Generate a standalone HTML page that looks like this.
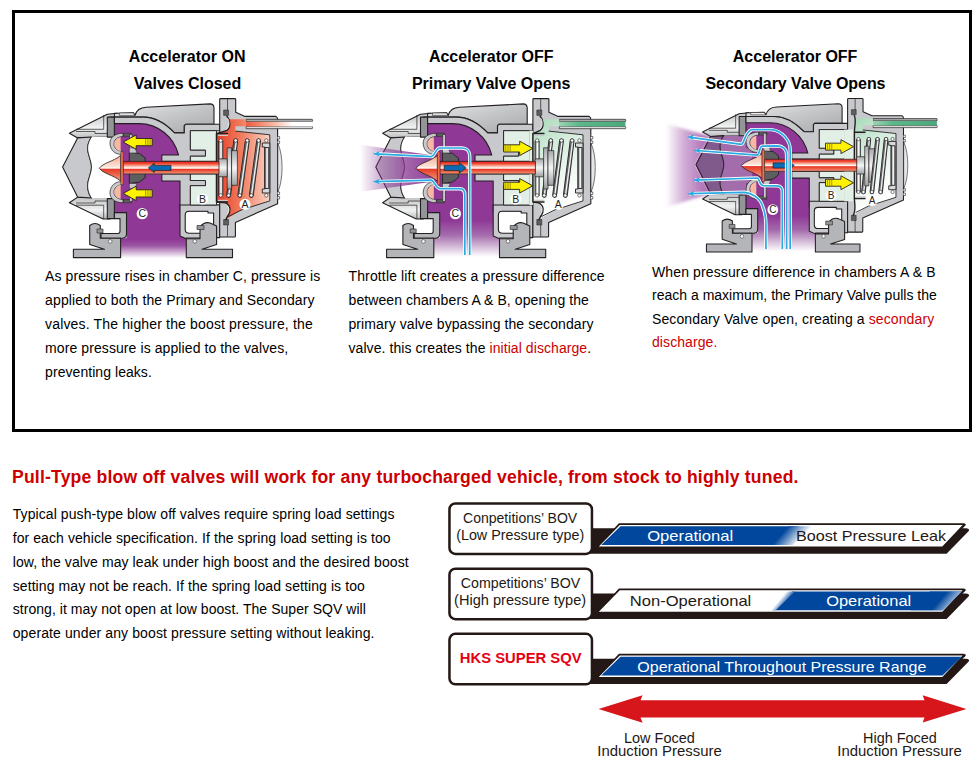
<!DOCTYPE html>
<html><head><meta charset="utf-8"><title>SQV</title>
<style>html,body{margin:0;padding:0;background:#fff;width:979px;height:772px;overflow:hidden}
svg{display:block;font-family:"Liberation Sans",sans-serif}</style></head>
<body><svg width="979" height="772" viewBox="0 0 979 772">
<defs><linearGradient id="fade1" gradientUnits="userSpaceOnUse" x1="786" y1="529" x2="800" y2="541"><stop offset="0" stop-color="#00479d"/><stop offset="1" stop-color="#fff"/></linearGradient>
<linearGradient id="fade2" gradientUnits="userSpaceOnUse" x1="781" y1="598" x2="787" y2="603"><stop offset="0" stop-color="#fff"/><stop offset="1" stop-color="#00479d"/></linearGradient>
<linearGradient id="fade2r" gradientUnits="userSpaceOnUse" x1="945" y1="594" x2="958" y2="605"><stop offset="0" stop-color="#00479d"/><stop offset="1" stop-color="#e8ecf6"/></linearGradient><linearGradient id="purfade1" gradientUnits="userSpaceOnUse" x1="0" y1="239" x2="0" y2="258"><stop offset="0" stop-color="#8f3896"/><stop offset="0.35" stop-color="#9a55a2"/><stop offset="1" stop-color="#fff"/></linearGradient>
<linearGradient id="purfade2" gradientUnits="userSpaceOnUse" x1="0" y1="220" x2="0" y2="257"><stop offset="0" stop-color="#8f3896"/><stop offset="0.4" stop-color="#a46aac"/><stop offset="0.75" stop-color="#d9c3dc"/><stop offset="1" stop-color="#fff"/></linearGradient>
<linearGradient id="capg" x1="0" y1="0" x2="1" y2="1"><stop offset="0" stop-color="#e6e7e8"/><stop offset="0.5" stop-color="#c4c6c8"/><stop offset="1" stop-color="#a7a9ac"/></linearGradient>
<linearGradient id="shellg" x1="0" y1="0" x2="0" y2="1"><stop offset="0" stop-color="#bfc1c3"/><stop offset="0.6" stop-color="#f1f2f2"/><stop offset="1" stop-color="#bcbec0"/></linearGradient>
<linearGradient id="rodg" x1="0" y1="0" x2="0" y2="1"><stop offset="0" stop-color="#e41e20"/><stop offset="0.18" stop-color="#ef4a32"/><stop offset="0.45" stop-color="#fbd9cc"/><stop offset="0.55" stop-color="#ffffff"/><stop offset="0.62" stop-color="#e8321f"/><stop offset="1" stop-color="#f39a7a"/></linearGradient>
<linearGradient id="bulg" x1="0" y1="0" x2="0" y2="1"><stop offset="0" stop-color="#f3a98a"/><stop offset="0.45" stop-color="#fde6dc"/><stop offset="0.5" stop-color="#ffffff"/><stop offset="0.53" stop-color="#e73a26"/><stop offset="1" stop-color="#f39c7e"/></linearGradient>
<linearGradient id="redA" x1="0" y1="0" x2="1" y2="0"><stop offset="0" stop-color="#e8402b"/><stop offset="0.45" stop-color="#f07a5c"/><stop offset="1" stop-color="#f9d3c4"/></linearGradient>
<linearGradient id="greenA" x1="0" y1="0" x2="0.35" y2="1"><stop offset="0" stop-color="#a6d9b8"/><stop offset="0.35" stop-color="#d3ecdb"/><stop offset="0.8" stop-color="#f7fbf8"/><stop offset="1" stop-color="#ffffff"/></linearGradient>
<linearGradient id="tubeR" x1="0" y1="0" x2="1" y2="0"><stop offset="0" stop-color="#ef5a3c"/><stop offset="0.4" stop-color="#f7b39c"/><stop offset="0.7" stop-color="#ffffff"/></linearGradient>
<linearGradient id="tubeG" x1="0" y1="0" x2="1" y2="0"><stop offset="0" stop-color="#9dd3b1"/><stop offset="0.3" stop-color="#5cb88b"/><stop offset="1" stop-color="#4aa97a"/></linearGradient>
<linearGradient id="coilh" gradientUnits="userSpaceOnUse" x1="0" y1="141" x2="0" y2="195"><stop offset="0" stop-color="#9a9c9e"/><stop offset="0.5" stop-color="#ffffff"/><stop offset="1" stop-color="#bcbec0"/></linearGradient>
<linearGradient id="coilg" x1="0" y1="0" x2="1" y2="0"><stop offset="0" stop-color="#58595b"/><stop offset="0.55" stop-color="#ffffff"/><stop offset="1" stop-color="#9d9fa2"/></linearGradient>
<linearGradient id="discg" x1="0" y1="0" x2="0" y2="1"><stop offset="0" stop-color="#a7a9ac"/><stop offset="0.5" stop-color="#f6f6f6"/><stop offset="1" stop-color="#9d9fa2"/></linearGradient>
<radialGradient id="flare2" cx="1" cy="0.5" r="1" fx="1" fy="0.5"><stop offset="0" stop-color="#8f3896" stop-opacity="0.95"/><stop offset="1" stop-color="#8f3896" stop-opacity="0.05"/></radialGradient>
<linearGradient id="flareL2" gradientUnits="userSpaceOnUse" x1="360" y1="0" x2="433" y2="0"><stop offset="0" stop-color="#8a3893" stop-opacity="0.0"/><stop offset="0.3" stop-color="#8a3893" stop-opacity="0.42"/><stop offset="0.65" stop-color="#8a3893" stop-opacity="0.78"/><stop offset="1" stop-color="#8a3893" stop-opacity="0.95"/></linearGradient>
<linearGradient id="flareL3" gradientUnits="userSpaceOnUse" x1="666" y1="0" x2="706" y2="0"><stop offset="0" stop-color="#9a4aa3" stop-opacity="0.0"/><stop offset="0.45" stop-color="#9a4aa3" stop-opacity="0.45"/><stop offset="1" stop-color="#9a4aa3" stop-opacity="0.8"/></linearGradient>
<filter id="soft2" x="-10%" y="-20%" width="120%" height="140%"><feGaussianBlur stdDeviation="0.7"/></filter>
<filter id="soft" x="-10%" y="-10%" width="120%" height="120%"><feGaussianBlur stdDeviation="1.6"/></filter>
<linearGradient id="flareL" x1="0" y1="0" x2="1" y2="0"><stop offset="0" stop-color="#b58abd" stop-opacity="0.1"/><stop offset="0.5" stop-color="#a673b0" stop-opacity="0.7"/><stop offset="1" stop-color="#8f3896" stop-opacity="0.9"/></linearGradient></defs>
<g transform="translate(0,0)"><path d="M114.4,123.6 L139.3,123.6 C158,124 176,136 180,156 L180,236 L186.3,238.8 L186.3,258 L120.6,258 L120.6,238.2 L126.5,238.2 L126.5,212.6 L114.4,212.6 Z" fill="url(#purfade1)" />
<path d="M69.4,133.2 L107.3,114.3 L117.3,113.2 L117.3,117.1 L110,117.1 L110,137.1 L77.6,137.9 Z" fill="url(#shellg)" stroke="#231f20" stroke-width="1.1" stroke-linejoin="round" />
<path d="M76,129.3 L103.7,129.3 L103.7,114.9 M76,131.5 L95,131.5 L95,133.5 L107.3,133.5" fill="none" stroke="#231f20" stroke-width="0.7" stroke-linejoin="round" />
<path d="M69.4,202.7 L103.1,219 L110,219 L110,197.1 L77.6,197.1 Z" fill="url(#shellg)" stroke="#231f20" stroke-width="1.1" stroke-linejoin="round" />
<path d="M76,205.2 L103.7,205.2 L103.7,219 M76,203 L95,203 L95,201 L107.3,201" fill="none" stroke="#231f20" stroke-width="0.7" stroke-linejoin="round" />
<path d="M77.6,137.9 L91.5,137 C88,142 87,147 88,152 C89,157 91.5,162 91.5,167 C91.5,172 89,177 88,182 C87,187 88,193 91.5,198 L77.6,197.1 L62.6,167 Z" fill="#c8c9cc" stroke="#231f20" stroke-width="1.1" stroke-linejoin="round" />
<path d="M91.5,137 L114.4,137 L114.4,150 L120.8,150 L120.8,186 L114.4,186 L114.4,198 L91.5,198 C88,193 87,187 88,182 C89,177 91.5,172 91.5,167 C91.5,162 89,157 88,152 C87,147 88,142 91.5,137 Z" fill="#fff" />
<path d="M91.5,137 C88,142 87,147 88,152 C89,157 91.5,162 91.5,167 C91.5,172 89,177 88,182 C87,187 88,193 91.5,198" fill="none" stroke="#231f20" stroke-width="0.8" stroke-linejoin="round" />
<path d="M107.3,117.1 L114.4,117.1 L114.4,137.1 L107.3,137.1 Z" fill="#939598" stroke="#231f20" stroke-width="1.1" stroke-linejoin="round" />
<path d="M107.3,198.6 L114.4,198.6 L114.4,218.6 L107.3,218.6 Z" fill="#939598" stroke="#231f20" stroke-width="1.1" stroke-linejoin="round" />
<path d="M117.3,113.2 L133.6,112.9 L135,115.4 C136.5,110 140,107.6 146,107.3 L210,103.9 Q214,104 214,108 L214,124.3 L185.7,124.3 L184.3,125.7 L184.3,132.9 L174.5,132.9 C166,124 156,117.1 143.6,117.1 L114.4,117.1 L114.4,113.4 Z" fill="url(#capg)" stroke="#231f20" stroke-width="1.1" stroke-linejoin="round" />
<path d="M119.3,115.4 L119.3,113 L133.6,112.9 L134.5,115.4 Z" fill="#eeeeee" stroke="#231f20" stroke-width="0.6" stroke-linejoin="round" />
<path d="M114.4,117.1 L143.6,117.1 C156,117.1 166,124 174.5,132.9 L184.3,132.9 L184.3,125.7 L185.7,124.3 L219.7,124.3 L219.7,130.7 L190.4,130.7 L190.4,150 L205.5,150 L205.5,156.2 L190.4,156.2 L190.4,161.3 L161.8,161.3 L161.8,155 L178.5,155 C174,137 158,123.6 139.3,123.6 L114.4,123.6 Z" fill="#c8c9cc" stroke="#231f20" stroke-width="1.1" stroke-linejoin="round" />
<path d="M161.8,174 L190.4,174 L190.4,180.5 L205.5,180.5 L205.5,185.7 L190.4,185.7 L190.4,205 L219.7,205 L219.7,211 L180,211 L180,181 L161.8,181 Z" fill="#c8c9cc" stroke="#231f20" stroke-width="1.1" stroke-linejoin="round" />
<path d="M180,205 L219.7,205 L219.7,237.6 L213.6,237.6 L213.6,213 L208,213 L208,211.3 L189,211.3 Q185.2,211.3 185.2,215 L185.2,229.5 Q185.2,233.3 189.5,233.3 L204,233.3 L204,238 L186.3,238 L186.3,238.8 L180,236 Z" fill="#c8c9cc" stroke="#231f20" stroke-width="1.1" stroke-linejoin="round" />
<path d="M114.4,212.6 L126.5,212.6 L126.5,234 Q126.5,238.2 122,238.2 L101,238.2 L101,233.5 L118,233.5 Q120,233.5 120,231 L120,218.6 L114.4,218.6 Z" fill="#b3b5b8" stroke="#231f20" stroke-width="1.1" stroke-linejoin="round" />
<path d="M73.4,249.3 L104.5,249.3 L89.7,244.4 L89.7,225.5 Q95,221.5 100.3,225.5 L100.3,238.2 L120.6,238.2 L120.6,257.6 L73.4,257.6 Z" fill="#b3b5b8" stroke="#231f20" stroke-width="1.1" stroke-linejoin="round" />
<path d="M97,229 L103,229 L103,233 L97,233 Z" fill="#939598" stroke="#231f20" stroke-width="0.6" stroke-linejoin="round" />
<circle cx="110.2" cy="241.4" r="1.8" fill="#fff" stroke="#231f20" stroke-width="0.5"/>
<path d="M186.3,238.8 L200,238.8 L200,227 Q204,221.5 210,223 L216.6,226 L216.6,244.6 L202,249.3 L232.5,249.3 L232.5,257.6 L186.3,257.6 Z" fill="#b3b5b8" stroke="#231f20" stroke-width="1.1" stroke-linejoin="round" />
<path d="M197,225.5 L204,225.5 L204,229.5 L197,229.5 Z" fill="#939598" stroke="#231f20" stroke-width="0.6" stroke-linejoin="round" />
<circle cx="194.8" cy="241.3" r="1.8" fill="#fff" stroke="#231f20" stroke-width="0.5"/>
<path d="M190.4,130.7 L216.5,130.7 L216.5,205 L190.4,205 L190.4,185.7 L205.5,185.7 L205.5,180.5 L190.4,180.5 L190.4,174 L216.5,174 L216.5,161.3 L190.4,161.3 L190.4,156.2 L205.5,156.2 L205.5,150 L190.4,150 Z" fill="#e2efe6" stroke="#231f20" stroke-width="0.9" stroke-linejoin="round" />
<path d="M219.7,124.3 L219.7,99.4 Q219.7,98.6 220.6,98.6 L234.8,98.6 Q235.7,98.6 235.7,99.4 L235.7,112.2 L245,116.4 L276,116.4 Q277.6,117 277.6,119.3 L277.6,203.8 L235.4,222.4 L235.4,236.2 Q235.4,237 234.6,237 L220.5,237 Q219.7,237 219.7,236.2 Z" fill="#c8c9cc" stroke="#231f20" stroke-width="1.1" stroke-linejoin="round" />
<path d="M227.5,98.8 L227.5,115 M227.5,221 L227.5,236.8" fill="none" stroke="#231f20" stroke-width="0.7" stroke-linejoin="round" />
<path d="M223.6,110 L228.6,110 L228.6,115.4 L223.6,115.4 Z" fill="#5d5e60" stroke="#231f20" stroke-width="0.5" stroke-linejoin="round" />
<path d="M223.6,219.5 L228.6,219.5 L228.6,225 L223.6,225 Z" fill="#5d5e60" stroke="#231f20" stroke-width="0.5" stroke-linejoin="round" />
<path d="M277.6,136.5 L279.6,136.5 L279.6,139 L277.6,139 M277.6,141 L279.6,141 L279.6,143.4 L277.6,143.4 M277.6,192 L279.6,192 L279.6,194.5 L277.6,194.5 M277.6,196.5 L279.6,196.5 L279.6,199 L277.6,199" fill="#fff" stroke="#231f20" stroke-width="0.6" stroke-linejoin="round" />
<path d="M277.8,143.4 C283.5,155 283.5,180 277.8,192 Z" fill="#e6e7e8" stroke="#231f20" stroke-width="0.6" stroke-linejoin="round" />
<path d="M246.1,119.3 L312.2,119.3 Q313,120.5 312.2,121.7 L246.1,121.7 Z" fill="#a7a9ac" stroke="#231f20" stroke-width="0.7" stroke-linejoin="round" />
<path d="M246.1,126.4 L312.2,126.4 Q313,127.5 312.2,128.7 L246.1,128.7 Z" fill="#d9dadb" stroke="#231f20" stroke-width="0.7" stroke-linejoin="round" />
<path d="M228.3,119.3 L246.1,119.3 L246.1,126.2 L235.4,126.2 L235.4,131.1 L269.8,134.8 L269.8,200.9 L241.6,209.9 L226.5,219 C231,212 231,205.5 225.5,202.9 L216.5,202.1 L216.5,133.4 L227.1,130.3 C231,127 230.8,122.5 228.3,119.3 Z" fill="url(#redA)" />
<path d="M246.1,121.7 L312.2,121.7 L312.2,126.4 L246.1,126.4 Z" fill="url(#tubeR)" />
<path d="M235.4,131.1 L269.8,134.8 L269.8,200.9 L241.6,209.9 L228.1,216.6" fill="none" stroke="#231f20" stroke-width="0.9" stroke-linejoin="round" />
<path d="M226.6,115.8 C230.5,120 231,127 227.1,130.3 L217.3,133.4" fill="none" stroke="#231f20" stroke-width="1.4" stroke-linejoin="round" />
<path d="M227.4,118 C229.6,121 229.8,126.5 226.5,129" fill="none" stroke="#fff" stroke-width="0.7" stroke-linejoin="round" />
<path d="M217.3,202.1 L225.5,202.9 C231,205.5 231,212 227.6,216.1 L225.5,220.2" fill="none" stroke="#231f20" stroke-width="1.4" stroke-linejoin="round" />
<path d="M226.5,205 C229.6,207 229.8,212 226.6,215" fill="none" stroke="#fff" stroke-width="0.7" stroke-linejoin="round" />
<path d="M228.1,133.4 L216.5,133.4 L216.5,202.1 L228.1,202.1" fill="none" stroke="#231f20" stroke-width="1.5" stroke-linejoin="round" />
<path d="M218.0,135.3 L228.0,135.3 M218.0,200.3 L228.0,200.3" fill="none" stroke="#c9cacc" stroke-width="1.2" stroke-linejoin="round" />
<line x1="235.7" y1="141" x2="228.6" y2="195.4" stroke="#231f20" stroke-width="4.8" stroke-linecap="round"/><line x1="235.7" y1="141" x2="228.6" y2="195.4" stroke="#5f6164" stroke-width="3.4" stroke-linecap="round"/><line x1="236.1" y1="142.5" x2="229.0" y2="193.9" stroke="#f0f0f0" stroke-width="1.4" stroke-linecap="round"/>
<path d="M218.6,141 L222.8,141 L222.8,195.6 L218.6,195.6 Z" fill="url(#coilg)" stroke="#231f20" stroke-width="0.8" stroke-linejoin="round" />
<path d="M262.3,143 L269.8,143 L269.8,193 L262.3,193 L262.3,189 L264.8,189 L264.8,147 L262.3,147 Z" fill="#d8d9da" stroke="#231f20" stroke-width="0.9" stroke-linejoin="round" />
<path d="M264.8,147.5 L268.8,147.5 L268.8,188.5 L264.8,188.5 Z" fill="url(#coilg)" stroke="#231f20" stroke-width="0.9" stroke-linejoin="round" />
<path d="M227.2,147.8 L231.6,147.8 L231.6,189 L227.2,189 Z" fill="url(#discg)" stroke="#231f20" stroke-width="0.7" stroke-linejoin="round" />
<path d="M231.6,150.6 L237.4,150.6 L237.4,185.3 L231.6,185.3 Z" fill="url(#discg)" stroke="#231f20" stroke-width="0.7" stroke-linejoin="round" />
<path d="M218.6,160 Q218.6,158.8 220.0,158.8 L227.2,158.8 L227.2,176.8 L220.0,176.8 Q218.6,176.8 218.6,175.5 Z" fill="url(#discg)" stroke="#231f20" stroke-width="0.7" stroke-linejoin="round" />
<line x1="247.2" y1="141" x2="239.8" y2="195.4" stroke="#231f20" stroke-width="4.8" stroke-linecap="round"/><line x1="247.2" y1="141" x2="239.8" y2="195.4" stroke="#5f6164" stroke-width="3.4" stroke-linecap="round"/><line x1="247.6" y1="142.5" x2="240.20000000000002" y2="193.9" stroke="#f0f0f0" stroke-width="1.4" stroke-linecap="round"/>
<line x1="258.6" y1="141" x2="251.3" y2="195.4" stroke="#231f20" stroke-width="4.8" stroke-linecap="round"/><line x1="258.6" y1="141" x2="251.3" y2="195.4" stroke="#5f6164" stroke-width="3.4" stroke-linecap="round"/><line x1="259.0" y1="142.5" x2="251.70000000000002" y2="193.9" stroke="#f0f0f0" stroke-width="1.4" stroke-linecap="round"/>
<circle cx="220.70" cy="140.5" r="1.7" fill="#fff" stroke="#231f20" stroke-width="0.6"/>
<circle cx="235.70" cy="140.5" r="1.7" fill="#fff" stroke="#231f20" stroke-width="0.6"/>
<circle cx="247.20" cy="140.5" r="1.7" fill="#fff" stroke="#231f20" stroke-width="0.6"/>
<circle cx="258.60" cy="140.5" r="1.7" fill="#fff" stroke="#231f20" stroke-width="0.6"/>
<circle cx="266.30" cy="140.5" r="1.7" fill="#fff" stroke="#231f20" stroke-width="0.6"/>
<circle cx="220.70" cy="195.4" r="1.7" fill="#fff" stroke="#231f20" stroke-width="0.6"/>
<circle cx="228.60" cy="195.4" r="1.7" fill="#fff" stroke="#231f20" stroke-width="0.6"/>
<circle cx="239.80" cy="195.4" r="1.7" fill="#fff" stroke="#231f20" stroke-width="0.6"/>
<circle cx="251.30" cy="195.4" r="1.7" fill="#fff" stroke="#231f20" stroke-width="0.6"/>
<circle cx="266.30" cy="195.4" r="1.7" fill="#fff" stroke="#231f20" stroke-width="0.6"/></g>

<g transform="translate(0,0)"><g transform="translate(0,0)">
<path d="M123,133.2 C114,133.4 109.5,138 110,144 C110.5,150 114.5,154.4 122.5,154.6 L122.5,151.3 C117,151 114,148 114,144 C114,140 117,136.6 123,136.6 Z" fill="#c9cacc" stroke="#231f20" stroke-width="0.7" stroke-linejoin="round" />
<path d="M120.6,137 C116,138 114.3,141 114.3,144 C114.3,147.5 116.5,150.5 120.6,151 Z" fill="#f6b8a0" />
<path d="M123,202.8 C114,202.6 109.5,198 110,192 C110.5,186 114.5,181.6 122.5,181.4 L122.5,184.7 C117,185 114,188 114,192 C114,196 117,199.4 123,199.4 Z" fill="#c9cacc" stroke="#231f20" stroke-width="0.7" stroke-linejoin="round" />
<path d="M120.6,199 C116,198 114.3,195 114.3,192 C114.3,188.5 116.5,185.5 120.6,185 Z" fill="#f6b8a0" />
<path d="M123.6,133.2 L131.4,133.2 L131.4,136.4 L123.6,136.4 Z" fill="#5d5e60" stroke="#231f20" stroke-width="0.5" stroke-linejoin="round" />
<path d="M123.6,199.6 L131.4,199.6 L131.4,202.8 L123.6,202.8 Z" fill="#5d5e60" stroke="#231f20" stroke-width="0.5" stroke-linejoin="round" />
</g>
<g transform="translate(0,0)">
<path d="M129.5,134.5 L132.3,134.5 L132.3,153 L129.5,153 Z" fill="#c9cacc" stroke="#231f20" stroke-width="0.6" stroke-linejoin="round" />
<path d="M129.5,182 L132.3,182 L132.3,201.5 L129.5,201.5 Z" fill="#c9cacc" stroke="#231f20" stroke-width="0.6" stroke-linejoin="round" />
<path d="M129.3,152 L139.5,153.5 L145.2,158 L145.2,177.5 L139.5,182 L129.3,183.5 Z" fill="#5d5e60" stroke="#231f20" stroke-width="0.9" stroke-linejoin="round" />
<path d="M129.3,147.9 L135,147.9 L137,152.9 L129.3,152.9 Z" fill="#c9cacc" stroke="#231f20" stroke-width="0.5" stroke-linejoin="round" />
<path d="M129.3,183.5 L137,183.5 L135,188.4 L129.3,188.4 Z" fill="#c9cacc" stroke="#231f20" stroke-width="0.5" stroke-linejoin="round" />
</g>
<path d="M123.19999999999999,161.4 L219,161.4 L219,173.9 L123.19999999999999,173.9 Z" fill="url(#rodg)" stroke="#231f20" stroke-width="0.7" stroke-linejoin="round" />
<path d="M99.3,168.2 C102.8,163 113.3,161.5 120.69999999999999,155.5 L120.69999999999999,181 C113.3,175 102.8,173.5 99.3,168.2 Z" fill="url(#bulg)" stroke="#231f20" stroke-width="0.8" stroke-linejoin="round" />
<path d="M120.69999999999999,151.8 L123.19999999999999,151.8 L123.19999999999999,184.7 L120.69999999999999,184.7 Z" fill="#f07050" stroke="#231f20" stroke-width="0.4" stroke-linejoin="round" />
<path d="M123.2,142.1 L136.2,134.9 L136.2,138.5 L152.2,138.5 L152.2,145.7 L136.2,145.7 L136.2,149.3 Z" fill="#fff200" stroke="#231f20" stroke-width="0.9" stroke-linejoin="round" /><line x1="145.7" y1="138.9" x2="145.7" y2="145.3" stroke="#8a7a00" stroke-width="0.8"/><line x1="147.9" y1="138.9" x2="147.9" y2="145.3" stroke="#8a7a00" stroke-width="0.8"/><line x1="150.1" y1="138.9" x2="150.1" y2="145.3" stroke="#8a7a00" stroke-width="0.8"/>
<path d="M123.2,193.4 L136.2,186.2 L136.2,189.8 L152.2,189.8 L152.2,197.0 L136.2,197.0 L136.2,200.6 Z" fill="#fff200" stroke="#231f20" stroke-width="0.9" stroke-linejoin="round" /><line x1="145.7" y1="190.2" x2="145.7" y2="196.6" stroke="#8a7a00" stroke-width="0.8"/><line x1="147.9" y1="190.2" x2="147.9" y2="196.6" stroke="#8a7a00" stroke-width="0.8"/><line x1="150.1" y1="190.2" x2="150.1" y2="196.6" stroke="#8a7a00" stroke-width="0.8"/>
<path d="M148.3,167.9 L154.3,163.2 L154.3,165.4 L171,165.4 L171,170.4 L154.3,170.4 L154.3,172.5 Z" fill="#0a6ab4" stroke="#231f20" stroke-width="0.7" stroke-linejoin="round" />
<circle cx="142.2" cy="213.7" r="5.6" fill="#fff"/><text x="142.2" y="217.29999999999998" font-size="10.5" text-anchor="middle" fill="#231f20">C</text>
<circle cx="202.6" cy="199" r="5.6" fill="#fff"/><text x="202.6" y="202.6" font-size="10.5" text-anchor="middle" fill="#231f20">B</text>
<circle cx="245" cy="204.4" r="5.6" fill="#fff"/><text x="245" y="208.0" font-size="10.5" text-anchor="middle" fill="#231f20">A</text></g>

<g transform="translate(313.2,0)"><path d="M114.4,123.6 L139.3,123.6 C158,124 176,136 180,156 L180,236 L186.3,238.8 L186.3,258 L120.6,258 L120.6,238.2 L126.5,238.2 L126.5,212.6 L114.4,212.6 Z" fill="url(#purfade2)" />
<path d="M69.4,133.2 L107.3,114.3 L117.3,113.2 L117.3,117.1 L110,117.1 L110,137.1 L77.6,137.9 Z" fill="url(#shellg)" stroke="#231f20" stroke-width="1.1" stroke-linejoin="round" />
<path d="M76,129.3 L103.7,129.3 L103.7,114.9 M76,131.5 L95,131.5 L95,133.5 L107.3,133.5" fill="none" stroke="#231f20" stroke-width="0.7" stroke-linejoin="round" />
<path d="M69.4,202.7 L103.1,219 L110,219 L110,197.1 L77.6,197.1 Z" fill="url(#shellg)" stroke="#231f20" stroke-width="1.1" stroke-linejoin="round" />
<path d="M76,205.2 L103.7,205.2 L103.7,219 M76,203 L95,203 L95,201 L107.3,201" fill="none" stroke="#231f20" stroke-width="0.7" stroke-linejoin="round" />
<path d="M77.6,137.9 L91.5,137 C88,142 87,147 88,152 C89,157 91.5,162 91.5,167 C91.5,172 89,177 88,182 C87,187 88,193 91.5,198 L77.6,197.1 L62.6,167 Z" fill="#c8c9cc" stroke="#231f20" stroke-width="1.1" stroke-linejoin="round" />
<path d="M91.5,137 L114.4,137 L114.4,150 L120.8,150 L120.8,186 L114.4,186 L114.4,198 L91.5,198 C88,193 87,187 88,182 C89,177 91.5,172 91.5,167 C91.5,162 89,157 88,152 C87,147 88,142 91.5,137 Z" fill="#fff" />
<path d="M91.5,137 C88,142 87,147 88,152 C89,157 91.5,162 91.5,167 C91.5,172 89,177 88,182 C87,187 88,193 91.5,198" fill="none" stroke="#231f20" stroke-width="0.8" stroke-linejoin="round" />
<path d="M107.3,117.1 L114.4,117.1 L114.4,137.1 L107.3,137.1 Z" fill="#939598" stroke="#231f20" stroke-width="1.1" stroke-linejoin="round" />
<path d="M107.3,198.6 L114.4,198.6 L114.4,218.6 L107.3,218.6 Z" fill="#939598" stroke="#231f20" stroke-width="1.1" stroke-linejoin="round" />
<path d="M117.3,113.2 L133.6,112.9 L135,115.4 C136.5,110 140,107.6 146,107.3 L210,103.9 Q214,104 214,108 L214,124.3 L185.7,124.3 L184.3,125.7 L184.3,132.9 L174.5,132.9 C166,124 156,117.1 143.6,117.1 L114.4,117.1 L114.4,113.4 Z" fill="url(#capg)" stroke="#231f20" stroke-width="1.1" stroke-linejoin="round" />
<path d="M119.3,115.4 L119.3,113 L133.6,112.9 L134.5,115.4 Z" fill="#eeeeee" stroke="#231f20" stroke-width="0.6" stroke-linejoin="round" />
<path d="M114.4,117.1 L143.6,117.1 C156,117.1 166,124 174.5,132.9 L184.3,132.9 L184.3,125.7 L185.7,124.3 L219.7,124.3 L219.7,130.7 L190.4,130.7 L190.4,150 L205.5,150 L205.5,156.2 L190.4,156.2 L190.4,161.3 L161.8,161.3 L161.8,155 L178.5,155 C174,137 158,123.6 139.3,123.6 L114.4,123.6 Z" fill="#c8c9cc" stroke="#231f20" stroke-width="1.1" stroke-linejoin="round" />
<path d="M161.8,174 L190.4,174 L190.4,180.5 L205.5,180.5 L205.5,185.7 L190.4,185.7 L190.4,205 L219.7,205 L219.7,211 L180,211 L180,181 L161.8,181 Z" fill="#c8c9cc" stroke="#231f20" stroke-width="1.1" stroke-linejoin="round" />
<path d="M180,205 L219.7,205 L219.7,237.6 L213.6,237.6 L213.6,213 L208,213 L208,211.3 L189,211.3 Q185.2,211.3 185.2,215 L185.2,229.5 Q185.2,233.3 189.5,233.3 L204,233.3 L204,238 L186.3,238 L186.3,238.8 L180,236 Z" fill="#c8c9cc" stroke="#231f20" stroke-width="1.1" stroke-linejoin="round" />
<path d="M114.4,212.6 L126.5,212.6 L126.5,234 Q126.5,238.2 122,238.2 L101,238.2 L101,233.5 L118,233.5 Q120,233.5 120,231 L120,218.6 L114.4,218.6 Z" fill="#b3b5b8" stroke="#231f20" stroke-width="1.1" stroke-linejoin="round" />
<path d="M73.4,249.3 L104.5,249.3 L89.7,244.4 L89.7,225.5 Q95,221.5 100.3,225.5 L100.3,238.2 L120.6,238.2 L120.6,257.6 L73.4,257.6 Z" fill="#b3b5b8" stroke="#231f20" stroke-width="1.1" stroke-linejoin="round" />
<path d="M97,229 L103,229 L103,233 L97,233 Z" fill="#939598" stroke="#231f20" stroke-width="0.6" stroke-linejoin="round" />
<circle cx="110.2" cy="241.4" r="1.8" fill="#fff" stroke="#231f20" stroke-width="0.5"/>
<path d="M186.3,238.8 L200,238.8 L200,227 Q204,221.5 210,223 L216.6,226 L216.6,244.6 L202,249.3 L232.5,249.3 L232.5,257.6 L186.3,257.6 Z" fill="#b3b5b8" stroke="#231f20" stroke-width="1.1" stroke-linejoin="round" />
<path d="M197,225.5 L204,225.5 L204,229.5 L197,229.5 Z" fill="#939598" stroke="#231f20" stroke-width="0.6" stroke-linejoin="round" />
<circle cx="194.8" cy="241.3" r="1.8" fill="#fff" stroke="#231f20" stroke-width="0.5"/>
<path d="M190.4,130.7 L216.5,130.7 L216.5,205 L190.4,205 L190.4,185.7 L205.5,185.7 L205.5,180.5 L190.4,180.5 L190.4,174 L216.5,174 L216.5,161.3 L190.4,161.3 L190.4,156.2 L205.5,156.2 L205.5,150 L190.4,150 Z" fill="#e2efe6" stroke="#231f20" stroke-width="0.9" stroke-linejoin="round" />
<path d="M219.7,124.3 L219.7,99.4 Q219.7,98.6 220.6,98.6 L234.8,98.6 Q235.7,98.6 235.7,99.4 L235.7,112.2 L245,116.4 L276,116.4 Q277.6,117 277.6,119.3 L277.6,203.8 L235.4,222.4 L235.4,236.2 Q235.4,237 234.6,237 L220.5,237 Q219.7,237 219.7,236.2 Z" fill="#c8c9cc" stroke="#231f20" stroke-width="1.1" stroke-linejoin="round" />
<path d="M227.5,98.8 L227.5,115 M227.5,221 L227.5,236.8" fill="none" stroke="#231f20" stroke-width="0.7" stroke-linejoin="round" />
<path d="M223.6,110 L228.6,110 L228.6,115.4 L223.6,115.4 Z" fill="#5d5e60" stroke="#231f20" stroke-width="0.5" stroke-linejoin="round" />
<path d="M223.6,219.5 L228.6,219.5 L228.6,225 L223.6,225 Z" fill="#5d5e60" stroke="#231f20" stroke-width="0.5" stroke-linejoin="round" />
<path d="M277.6,136.5 L279.6,136.5 L279.6,139 L277.6,139 M277.6,141 L279.6,141 L279.6,143.4 L277.6,143.4 M277.6,192 L279.6,192 L279.6,194.5 L277.6,194.5 M277.6,196.5 L279.6,196.5 L279.6,199 L277.6,199" fill="#fff" stroke="#231f20" stroke-width="0.6" stroke-linejoin="round" />
<path d="M277.8,143.4 C283.5,155 283.5,180 277.8,192 Z" fill="#e6e7e8" stroke="#231f20" stroke-width="0.6" stroke-linejoin="round" />
<path d="M246.1,119.3 L312.2,119.3 Q313,120.5 312.2,121.7 L246.1,121.7 Z" fill="#a7a9ac" stroke="#231f20" stroke-width="0.7" stroke-linejoin="round" />
<path d="M246.1,126.4 L312.2,126.4 Q313,127.5 312.2,128.7 L246.1,128.7 Z" fill="#d9dadb" stroke="#231f20" stroke-width="0.7" stroke-linejoin="round" />
<path d="M216,130.7 L219.7,130.7 L219.7,205 L216,205 Z" fill="#e2efe6" />
<path d="M228.3,119.3 L246.1,119.3 L246.1,126.2 L235.4,126.2 L235.4,131.1 L269.8,134.8 L269.8,200.9 L241.6,209.9 L226.5,219 C231,212 231,205.5 225.5,202.9 L219.7,202.1 L219.7,133.4 L227.1,130.3 C231,127 230.8,122.5 228.3,119.3 Z" fill="url(#greenA)" />
<path d="M246.1,121.7 L312.2,121.7 L312.2,126.4 L246.1,126.4 Z" fill="url(#tubeG)" />
<path d="M235.4,131.1 L269.8,134.8 L269.8,200.9 L241.6,209.9 L228.1,216.6" fill="none" stroke="#231f20" stroke-width="0.9" stroke-linejoin="round" />
<path d="M226.6,115.8 C230.5,120 231,127 227.1,130.3 L220.5,133.4" fill="none" stroke="#231f20" stroke-width="1.4" stroke-linejoin="round" />
<path d="M227.4,118 C229.6,121 229.8,126.5 226.5,129" fill="none" stroke="#fff" stroke-width="0.7" stroke-linejoin="round" />
<path d="M220.5,202.1 L225.5,202.9 C231,205.5 231,212 227.6,216.1 L225.5,220.2" fill="none" stroke="#231f20" stroke-width="1.4" stroke-linejoin="round" />
<path d="M226.5,205 C229.6,207 229.8,212 226.6,215" fill="none" stroke="#fff" stroke-width="0.7" stroke-linejoin="round" />
<path d="M231.29999999999998,133.4 L219.7,133.4 L219.7,202.1 L231.29999999999998,202.1" fill="none" stroke="#231f20" stroke-width="1.5" stroke-linejoin="round" />
<path d="M221.2,135.3 L231.2,135.3 M221.2,200.3 L231.2,200.3" fill="none" stroke="#c9cacc" stroke-width="1.2" stroke-linejoin="round" />
<line x1="237.57870967741934" y1="141" x2="230.967311827957" y2="195.4" stroke="#231f20" stroke-width="4.8" stroke-linecap="round"/><line x1="237.57870967741934" y1="141" x2="230.967311827957" y2="195.4" stroke="#5f6164" stroke-width="3.4" stroke-linecap="round"/><line x1="237.97870967741935" y1="142.5" x2="231.367311827957" y2="193.9" stroke="#f0f0f0" stroke-width="1.4" stroke-linecap="round"/>
<path d="M221.79999999999998,141 L226.0,141 L226.0,195.6 L221.79999999999998,195.6 Z" fill="url(#coilg)" stroke="#231f20" stroke-width="0.8" stroke-linejoin="round" />
<path d="M262.3,143 L269.8,143 L269.8,193 L262.3,193 L262.3,189 L264.8,189 L264.8,147 L262.3,147 Z" fill="#d8d9da" stroke="#231f20" stroke-width="0.9" stroke-linejoin="round" />
<path d="M264.8,147.5 L268.8,147.5 L268.8,188.5 L264.8,188.5 Z" fill="url(#coilg)" stroke="#231f20" stroke-width="0.9" stroke-linejoin="round" />
<path d="M230.39999999999998,147.8 L234.79999999999998,147.8 L234.79999999999998,189 L230.39999999999998,189 Z" fill="url(#discg)" stroke="#231f20" stroke-width="0.7" stroke-linejoin="round" />
<path d="M234.79999999999998,150.6 L240.6,150.6 L240.6,185.3 L234.79999999999998,185.3 Z" fill="url(#discg)" stroke="#231f20" stroke-width="0.7" stroke-linejoin="round" />
<path d="M221.79999999999998,160 Q221.79999999999998,158.8 223.2,158.8 L230.39999999999998,158.8 L230.39999999999998,176.8 L223.2,176.8 Q221.79999999999998,176.8 221.79999999999998,175.5 Z" fill="url(#discg)" stroke="#231f20" stroke-width="0.7" stroke-linejoin="round" />
<line x1="248.28731182795698" y1="141" x2="241.39655913978496" y2="195.4" stroke="#231f20" stroke-width="4.8" stroke-linecap="round"/><line x1="248.28731182795698" y1="141" x2="241.39655913978496" y2="195.4" stroke="#5f6164" stroke-width="3.4" stroke-linecap="round"/><line x1="248.687311827957" y1="142.5" x2="241.79655913978496" y2="193.9" stroke="#f0f0f0" stroke-width="1.4" stroke-linecap="round"/>
<line x1="258.90279569892476" y1="141" x2="252.1051612903226" y2="195.4" stroke="#231f20" stroke-width="4.8" stroke-linecap="round"/><line x1="258.90279569892476" y1="141" x2="252.1051612903226" y2="195.4" stroke="#5f6164" stroke-width="3.4" stroke-linecap="round"/><line x1="259.30279569892474" y1="142.5" x2="252.5051612903226" y2="193.9" stroke="#f0f0f0" stroke-width="1.4" stroke-linecap="round"/>
<circle cx="223.90" cy="140.5" r="1.7" fill="#fff" stroke="#231f20" stroke-width="0.6"/>
<circle cx="237.58" cy="140.5" r="1.7" fill="#fff" stroke="#231f20" stroke-width="0.6"/>
<circle cx="248.29" cy="140.5" r="1.7" fill="#fff" stroke="#231f20" stroke-width="0.6"/>
<circle cx="258.90" cy="140.5" r="1.7" fill="#fff" stroke="#231f20" stroke-width="0.6"/>
<circle cx="266.30" cy="140.5" r="1.7" fill="#fff" stroke="#231f20" stroke-width="0.6"/>
<circle cx="223.90" cy="195.4" r="1.7" fill="#fff" stroke="#231f20" stroke-width="0.6"/>
<circle cx="230.97" cy="195.4" r="1.7" fill="#fff" stroke="#231f20" stroke-width="0.6"/>
<circle cx="241.40" cy="195.4" r="1.7" fill="#fff" stroke="#231f20" stroke-width="0.6"/>
<circle cx="252.11" cy="195.4" r="1.7" fill="#fff" stroke="#231f20" stroke-width="0.6"/>
<circle cx="266.30" cy="195.4" r="1.7" fill="#fff" stroke="#231f20" stroke-width="0.6"/></g>
<path d="M359,144.5 L433.5,155.5 L433.5,181.5 L359,192 Z" fill="url(#flareL2)" filter="url(#soft2)"/>
<g transform="translate(313.2,0)"><g transform="translate(0,0)">
<path d="M123,133.2 C114,133.4 109.5,138 110,144 C110.5,150 114.5,154.4 122.5,154.6 L122.5,151.3 C117,151 114,148 114,144 C114,140 117,136.6 123,136.6 Z" fill="#c9cacc" stroke="#231f20" stroke-width="0.7" stroke-linejoin="round" />
<path d="M120.6,137 C116,138 114.3,141 114.3,144 C114.3,147.5 116.5,150.5 120.6,151 Z" fill="#f6b8a0" />
<path d="M123,202.8 C114,202.6 109.5,198 110,192 C110.5,186 114.5,181.6 122.5,181.4 L122.5,184.7 C117,185 114,188 114,192 C114,196 117,199.4 123,199.4 Z" fill="#c9cacc" stroke="#231f20" stroke-width="0.7" stroke-linejoin="round" />
<path d="M120.6,199 C116,198 114.3,195 114.3,192 C114.3,188.5 116.5,185.5 120.6,185 Z" fill="#f6b8a0" />
<path d="M123.6,133.2 L131.4,133.2 L131.4,136.4 L123.6,136.4 Z" fill="#5d5e60" stroke="#231f20" stroke-width="0.5" stroke-linejoin="round" />
<path d="M123.6,199.6 L131.4,199.6 L131.4,202.8 L123.6,202.8 Z" fill="#5d5e60" stroke="#231f20" stroke-width="0.5" stroke-linejoin="round" />
</g>
<g transform="translate(0,0)">
<path d="M129.5,134.5 L132.3,134.5 L132.3,153 L129.5,153 Z" fill="#c9cacc" stroke="#231f20" stroke-width="0.6" stroke-linejoin="round" />
<path d="M129.5,182 L132.3,182 L132.3,201.5 L129.5,201.5 Z" fill="#c9cacc" stroke="#231f20" stroke-width="0.6" stroke-linejoin="round" />
<path d="M129.3,152 L139.5,153.5 L145.2,158 L145.2,177.5 L139.5,182 L129.3,183.5 Z" fill="#5d5e60" stroke="#231f20" stroke-width="0.9" stroke-linejoin="round" />
<path d="M129.3,147.9 L135,147.9 L137,152.9 L129.3,152.9 Z" fill="#c9cacc" stroke="#231f20" stroke-width="0.5" stroke-linejoin="round" />
<path d="M129.3,183.5 L137,183.5 L135,188.4 L129.3,188.4 Z" fill="#c9cacc" stroke="#231f20" stroke-width="0.5" stroke-linejoin="round" />
</g>
<path d="M126.69999999999999,161.4 L222.2,161.4 L222.2,173.9 L126.69999999999999,173.9 Z" fill="url(#rodg)" stroke="#231f20" stroke-width="0.7" stroke-linejoin="round" />
<path d="M102.8,168.2 C106.3,163 116.8,161.5 124.19999999999999,155.5 L124.19999999999999,181 C116.8,175 106.3,173.5 102.8,168.2 Z" fill="url(#bulg)" stroke="#231f20" stroke-width="0.8" stroke-linejoin="round" />
<path d="M124.19999999999999,151.8 L126.69999999999999,151.8 L126.69999999999999,184.7 L124.19999999999999,184.7 Z" fill="#f07050" stroke="#231f20" stroke-width="0.4" stroke-linejoin="round" />
<path d="M219.5,148.4 L206.5,141.2 L206.5,144.8 L190.5,144.8 L190.5,152.0 L206.5,152.0 L206.5,155.6 Z" fill="#fff200" stroke="#231f20" stroke-width="0.9" stroke-linejoin="round" /><line x1="197.0" y1="145.2" x2="197.0" y2="151.6" stroke="#8a7a00" stroke-width="0.8"/><line x1="194.8" y1="145.2" x2="194.8" y2="151.6" stroke="#8a7a00" stroke-width="0.8"/><line x1="192.6" y1="145.2" x2="192.6" y2="151.6" stroke="#8a7a00" stroke-width="0.8"/>
<path d="M219.5,185.8 L206.5,178.6 L206.5,182.2 L190.5,182.2 L190.5,189.4 L206.5,189.4 L206.5,193.0 Z" fill="#fff200" stroke="#231f20" stroke-width="0.9" stroke-linejoin="round" /><line x1="197.0" y1="182.6" x2="197.0" y2="189.0" stroke="#8a7a00" stroke-width="0.8"/><line x1="194.8" y1="182.6" x2="194.8" y2="189.0" stroke="#8a7a00" stroke-width="0.8"/><line x1="192.6" y1="182.6" x2="192.6" y2="189.0" stroke="#8a7a00" stroke-width="0.8"/>
<path d="M153,167.9 L146,162.6 L146,165.2 L131,165.2 L131,170.6 L146,170.6 L146,173.2 Z" fill="#0a6ab4" stroke="#231f20" stroke-width="0.7" stroke-linejoin="round" />
<circle cx="142.2" cy="213.7" r="5.6" fill="#fff"/><text x="142.2" y="217.29999999999998" font-size="10.5" text-anchor="middle" fill="#231f20">C</text>
<circle cx="202.6" cy="199" r="5.6" fill="#fff"/><text x="202.6" y="202.6" font-size="10.5" text-anchor="middle" fill="#231f20">B</text>
<circle cx="245" cy="204.4" r="5.6" fill="#fff"/><text x="245" y="208.0" font-size="10.5" text-anchor="middle" fill="#231f20">A</text></g>
<path d="M375,153.8 L431.5,156.6 C434.5,156 435.5,149 439.5,148 L462,148 C466.5,148 469.7,151 469.7,156 L469.7,255" fill="none" stroke="#fff" stroke-width="3.4" stroke-linejoin="round"/><path d="M375,153.8 L431.5,156.6 C434.5,156 435.5,149 439.5,148 L462,148 C466.5,148 469.7,151 469.7,156 L469.7,255" fill="none" stroke="#29abe2" stroke-width="1.7" stroke-linejoin="round"/><path d="M375,181.6 L431.5,180.1 C434.5,181 435.5,188 440,188.7 L459.5,188.7 C463,188.7 464.8,191 464.8,195 L464.8,255" fill="none" stroke="#fff" stroke-width="3.4" stroke-linejoin="round"/><path d="M375,181.6 L431.5,180.1 C434.5,181 435.5,188 440,188.7 L459.5,188.7 C463,188.7 464.8,191 464.8,195 L464.8,255" fill="none" stroke="#29abe2" stroke-width="1.7" stroke-linejoin="round"/><path d="M372.8,153.8 L379.8,151.20000000000002 L378.3,153.8 L379.8,156.4 Z" fill="#29abe2"/><path d="M372.8,181.6 L379.8,179.0 L378.3,181.6 L379.8,184.2 Z" fill="#29abe2"/>
<g transform="translate(635.6,3.44) scale(0.965)"><path d="M114.4,123.6 L139.3,123.6 C158,124 176,136 180,156 L180,236 L186.3,238.8 L186.3,258 L120.6,258 L120.6,238.2 L126.5,238.2 L126.5,212.6 L114.4,212.6 Z" fill="url(#purfade2)" />
<path d="M69.4,133.2 L107.3,114.3 L117.3,113.2 L117.3,117.1 L110,117.1 L110,137.1 L77.6,137.9 Z" fill="url(#shellg)" stroke="#231f20" stroke-width="1.1" stroke-linejoin="round" />
<path d="M76,129.3 L103.7,129.3 L103.7,114.9 M76,131.5 L95,131.5 L95,133.5 L107.3,133.5" fill="none" stroke="#231f20" stroke-width="0.7" stroke-linejoin="round" />
<path d="M69.4,202.7 L103.1,219 L110,219 L110,197.1 L77.6,197.1 Z" fill="url(#shellg)" stroke="#231f20" stroke-width="1.1" stroke-linejoin="round" />
<path d="M76,205.2 L103.7,205.2 L103.7,219 M76,203 L95,203 L95,201 L107.3,201" fill="none" stroke="#231f20" stroke-width="0.7" stroke-linejoin="round" />
<path d="M77.6,137.9 L91.5,137 C88,142 87,147 88,152 C89,157 91.5,162 91.5,167 C91.5,172 89,177 88,182 C87,187 88,193 91.5,198 L77.6,197.1 L62.6,167 Z" fill="#7f5a8b" stroke="#231f20" stroke-width="1.1" stroke-linejoin="round" />
<path d="M91.5,137 L114.4,137 L114.4,150 L120.8,150 L120.8,186 L114.4,186 L114.4,198 L91.5,198 C88,193 87,187 88,182 C89,177 91.5,172 91.5,167 C91.5,162 89,157 88,152 C87,147 88,142 91.5,137 Z" fill="#a36dac" />
<path d="M91.5,137 C88,142 87,147 88,152 C89,157 91.5,162 91.5,167 C91.5,172 89,177 88,182 C87,187 88,193 91.5,198" fill="none" stroke="#231f20" stroke-width="0.8" stroke-linejoin="round" />
<path d="M107.3,117.1 L114.4,117.1 L114.4,137.1 L107.3,137.1 Z" fill="#939598" stroke="#231f20" stroke-width="1.1" stroke-linejoin="round" />
<path d="M107.3,198.6 L114.4,198.6 L114.4,218.6 L107.3,218.6 Z" fill="#939598" stroke="#231f20" stroke-width="1.1" stroke-linejoin="round" />
<path d="M117.3,113.2 L133.6,112.9 L135,115.4 C136.5,110 140,107.6 146,107.3 L210,103.9 Q214,104 214,108 L214,124.3 L185.7,124.3 L184.3,125.7 L184.3,132.9 L174.5,132.9 C166,124 156,117.1 143.6,117.1 L114.4,117.1 L114.4,113.4 Z" fill="url(#capg)" stroke="#231f20" stroke-width="1.1" stroke-linejoin="round" />
<path d="M119.3,115.4 L119.3,113 L133.6,112.9 L134.5,115.4 Z" fill="#eeeeee" stroke="#231f20" stroke-width="0.6" stroke-linejoin="round" />
<path d="M114.4,117.1 L143.6,117.1 C156,117.1 166,124 174.5,132.9 L184.3,132.9 L184.3,125.7 L185.7,124.3 L219.7,124.3 L219.7,130.7 L190.4,130.7 L190.4,150 L205.5,150 L205.5,156.2 L190.4,156.2 L190.4,161.3 L161.8,161.3 L161.8,155 L178.5,155 C174,137 158,123.6 139.3,123.6 L114.4,123.6 Z" fill="#c8c9cc" stroke="#231f20" stroke-width="1.1" stroke-linejoin="round" />
<path d="M161.8,174 L190.4,174 L190.4,180.5 L205.5,180.5 L205.5,185.7 L190.4,185.7 L190.4,205 L219.7,205 L219.7,211 L180,211 L180,181 L161.8,181 Z" fill="#c8c9cc" stroke="#231f20" stroke-width="1.1" stroke-linejoin="round" />
<path d="M180,205 L219.7,205 L219.7,237.6 L213.6,237.6 L213.6,213 L208,213 L208,211.3 L189,211.3 Q185.2,211.3 185.2,215 L185.2,229.5 Q185.2,233.3 189.5,233.3 L204,233.3 L204,238 L186.3,238 L186.3,238.8 L180,236 Z" fill="#c8c9cc" stroke="#231f20" stroke-width="1.1" stroke-linejoin="round" />
<path d="M114.4,212.6 L126.5,212.6 L126.5,234 Q126.5,238.2 122,238.2 L101,238.2 L101,233.5 L118,233.5 Q120,233.5 120,231 L120,218.6 L114.4,218.6 Z" fill="#b3b5b8" stroke="#231f20" stroke-width="1.1" stroke-linejoin="round" />
<path d="M73.4,249.3 L104.5,249.3 L89.7,244.4 L89.7,225.5 Q95,221.5 100.3,225.5 L100.3,238.2 L120.6,238.2 L120.6,257.6 L73.4,257.6 Z" fill="#b3b5b8" stroke="#231f20" stroke-width="1.1" stroke-linejoin="round" />
<path d="M97,229 L103,229 L103,233 L97,233 Z" fill="#939598" stroke="#231f20" stroke-width="0.6" stroke-linejoin="round" />
<circle cx="110.2" cy="241.4" r="1.8" fill="#fff" stroke="#231f20" stroke-width="0.5"/>
<path d="M186.3,238.8 L200,238.8 L200,227 Q204,221.5 210,223 L216.6,226 L216.6,244.6 L202,249.3 L232.5,249.3 L232.5,257.6 L186.3,257.6 Z" fill="#b3b5b8" stroke="#231f20" stroke-width="1.1" stroke-linejoin="round" />
<path d="M197,225.5 L204,225.5 L204,229.5 L197,229.5 Z" fill="#939598" stroke="#231f20" stroke-width="0.6" stroke-linejoin="round" />
<circle cx="194.8" cy="241.3" r="1.8" fill="#fff" stroke="#231f20" stroke-width="0.5"/>
<path d="M190.4,130.7 L216.5,130.7 L216.5,205 L190.4,205 L190.4,185.7 L205.5,185.7 L205.5,180.5 L190.4,180.5 L190.4,174 L216.5,174 L216.5,161.3 L190.4,161.3 L190.4,156.2 L205.5,156.2 L205.5,150 L190.4,150 Z" fill="#e2efe6" stroke="#231f20" stroke-width="0.9" stroke-linejoin="round" />
<path d="M219.7,124.3 L219.7,99.4 Q219.7,98.6 220.6,98.6 L234.8,98.6 Q235.7,98.6 235.7,99.4 L235.7,112.2 L245,116.4 L276,116.4 Q277.6,117 277.6,119.3 L277.6,203.8 L235.4,222.4 L235.4,236.2 Q235.4,237 234.6,237 L220.5,237 Q219.7,237 219.7,236.2 Z" fill="#c8c9cc" stroke="#231f20" stroke-width="1.1" stroke-linejoin="round" />
<path d="M227.5,98.8 L227.5,115 M227.5,221 L227.5,236.8" fill="none" stroke="#231f20" stroke-width="0.7" stroke-linejoin="round" />
<path d="M223.6,110 L228.6,110 L228.6,115.4 L223.6,115.4 Z" fill="#5d5e60" stroke="#231f20" stroke-width="0.5" stroke-linejoin="round" />
<path d="M223.6,219.5 L228.6,219.5 L228.6,225 L223.6,225 Z" fill="#5d5e60" stroke="#231f20" stroke-width="0.5" stroke-linejoin="round" />
<path d="M277.6,136.5 L279.6,136.5 L279.6,139 L277.6,139 M277.6,141 L279.6,141 L279.6,143.4 L277.6,143.4 M277.6,192 L279.6,192 L279.6,194.5 L277.6,194.5 M277.6,196.5 L279.6,196.5 L279.6,199 L277.6,199" fill="#fff" stroke="#231f20" stroke-width="0.6" stroke-linejoin="round" />
<path d="M277.8,143.4 C283.5,155 283.5,180 277.8,192 Z" fill="#e6e7e8" stroke="#231f20" stroke-width="0.6" stroke-linejoin="round" />
<path d="M246.1,119.3 L312.2,119.3 Q313,120.5 312.2,121.7 L246.1,121.7 Z" fill="#a7a9ac" stroke="#231f20" stroke-width="0.7" stroke-linejoin="round" />
<path d="M246.1,126.4 L312.2,126.4 Q313,127.5 312.2,128.7 L246.1,128.7 Z" fill="#d9dadb" stroke="#231f20" stroke-width="0.7" stroke-linejoin="round" />
<path d="M216,130.7 L226.7,130.7 L226.7,205 L216,205 Z" fill="#e2efe6" />
<path d="M227.5,119.3 L246.1,119.3 L246.1,126.2 L235.4,126.2 L235.4,131.1 L269.8,134.8 L269.8,200.9 L241.6,209.9 L226,219 C229,212 226.7,207 226.7,202.1 L226.7,133.4 C226.7,128 229,122 227.5,119.3 Z" fill="url(#greenA)" />
<path d="M246.1,121.7 L312.2,121.7 L312.2,126.4 L246.1,126.4 Z" fill="url(#tubeG)" />
<path d="M235.4,131.1 L269.8,134.8 L269.8,200.9 L241.6,209.9 L228.1,216.6" fill="none" stroke="#231f20" stroke-width="0.9" stroke-linejoin="round" />
<path d="M226.6,115.8 C229,121 226.7,128 226.7,133.4" fill="none" stroke="#231f20" stroke-width="1.4" stroke-linejoin="round" />
<path d="M226.7,202.1 C226.7,207 229,212 225.5,220.2" fill="none" stroke="#231f20" stroke-width="1.4" stroke-linejoin="round" />
<path d="M238.29999999999998,133.4 L226.7,133.4 L226.7,202.1 L238.29999999999998,202.1" fill="none" stroke="#231f20" stroke-width="1.5" stroke-linejoin="round" />
<path d="M228.2,135.3 L238.2,135.3 M228.2,200.3 L238.2,200.3" fill="none" stroke="#c9cacc" stroke-width="1.2" stroke-linejoin="round" />
<line x1="241.6883870967742" y1="141" x2="236.14580645161288" y2="195.4" stroke="#231f20" stroke-width="4.8" stroke-linecap="round"/><line x1="241.6883870967742" y1="141" x2="236.14580645161288" y2="195.4" stroke="#5f6164" stroke-width="3.4" stroke-linecap="round"/><line x1="242.0883870967742" y1="142.5" x2="236.5458064516129" y2="193.9" stroke="#f0f0f0" stroke-width="1.4" stroke-linecap="round"/>
<path d="M228.79999999999998,141 L233.0,141 L233.0,195.6 L228.79999999999998,195.6 Z" fill="url(#coilg)" stroke="#231f20" stroke-width="0.8" stroke-linejoin="round" />
<path d="M262.3,143 L269.8,143 L269.8,193 L262.3,193 L262.3,189 L264.8,189 L264.8,147 L262.3,147 Z" fill="#d8d9da" stroke="#231f20" stroke-width="0.9" stroke-linejoin="round" />
<path d="M264.8,147.5 L268.8,147.5 L268.8,188.5 L264.8,188.5 Z" fill="url(#coilg)" stroke="#231f20" stroke-width="0.9" stroke-linejoin="round" />
<path d="M237.39999999999998,147.8 L241.79999999999998,147.8 L241.79999999999998,189 L237.39999999999998,189 Z" fill="url(#discg)" stroke="#231f20" stroke-width="0.7" stroke-linejoin="round" />
<path d="M241.79999999999998,150.6 L247.6,150.6 L247.6,185.3 L241.79999999999998,185.3 Z" fill="url(#discg)" stroke="#231f20" stroke-width="0.7" stroke-linejoin="round" />
<path d="M228.79999999999998,160 Q228.79999999999998,158.8 230.2,158.8 L237.39999999999998,158.8 L237.39999999999998,176.8 L230.2,176.8 Q228.79999999999998,176.8 228.79999999999998,175.5 Z" fill="url(#discg)" stroke="#231f20" stroke-width="0.7" stroke-linejoin="round" />
<line x1="250.6658064516129" y1="141" x2="244.88903225806453" y2="195.4" stroke="#231f20" stroke-width="4.8" stroke-linecap="round"/><line x1="250.6658064516129" y1="141" x2="244.88903225806453" y2="195.4" stroke="#5f6164" stroke-width="3.4" stroke-linecap="round"/><line x1="251.0658064516129" y1="142.5" x2="245.28903225806454" y2="193.9" stroke="#f0f0f0" stroke-width="1.4" stroke-linecap="round"/>
<line x1="259.5651612903226" y1="141" x2="253.86645161290323" y2="195.4" stroke="#231f20" stroke-width="4.8" stroke-linecap="round"/><line x1="259.5651612903226" y1="141" x2="253.86645161290323" y2="195.4" stroke="#5f6164" stroke-width="3.4" stroke-linecap="round"/><line x1="259.96516129032256" y1="142.5" x2="254.26645161290324" y2="193.9" stroke="#f0f0f0" stroke-width="1.4" stroke-linecap="round"/>
<circle cx="230.90" cy="140.5" r="1.7" fill="#fff" stroke="#231f20" stroke-width="0.6"/>
<circle cx="241.69" cy="140.5" r="1.7" fill="#fff" stroke="#231f20" stroke-width="0.6"/>
<circle cx="250.67" cy="140.5" r="1.7" fill="#fff" stroke="#231f20" stroke-width="0.6"/>
<circle cx="259.57" cy="140.5" r="1.7" fill="#fff" stroke="#231f20" stroke-width="0.6"/>
<circle cx="266.30" cy="140.5" r="1.7" fill="#fff" stroke="#231f20" stroke-width="0.6"/>
<circle cx="230.90" cy="195.4" r="1.7" fill="#fff" stroke="#231f20" stroke-width="0.6"/>
<circle cx="236.15" cy="195.4" r="1.7" fill="#fff" stroke="#231f20" stroke-width="0.6"/>
<circle cx="244.89" cy="195.4" r="1.7" fill="#fff" stroke="#231f20" stroke-width="0.6"/>
<circle cx="253.87" cy="195.4" r="1.7" fill="#fff" stroke="#231f20" stroke-width="0.6"/>
<circle cx="266.30" cy="195.4" r="1.7" fill="#fff" stroke="#231f20" stroke-width="0.6"/></g>
<path d="M664,123 L710.5,136.5 L696,164.6 L710.5,193.6 L664,208 Z" fill="url(#flareL3)" filter="url(#soft)"/>
<g transform="translate(635.6,3.44) scale(0.965)"><g transform="translate(4.5,0)">
<path d="M123,133.2 C114,133.4 109.5,138 110,144 C110.5,150 114.5,154.4 122.5,154.6 L122.5,151.3 C117,151 114,148 114,144 C114,140 117,136.6 123,136.6 Z" fill="#c9cacc" stroke="#231f20" stroke-width="0.7" stroke-linejoin="round" />
<path d="M120.6,137 C116,138 114.3,141 114.3,144 C114.3,147.5 116.5,150.5 120.6,151 Z" fill="#f6b8a0" />
<path d="M123,202.8 C114,202.6 109.5,198 110,192 C110.5,186 114.5,181.6 122.5,181.4 L122.5,184.7 C117,185 114,188 114,192 C114,196 117,199.4 123,199.4 Z" fill="#c9cacc" stroke="#231f20" stroke-width="0.7" stroke-linejoin="round" />
<path d="M120.6,199 C116,198 114.3,195 114.3,192 C114.3,188.5 116.5,185.5 120.6,185 Z" fill="#f6b8a0" />
<path d="M123.6,133.2 L131.4,133.2 L131.4,136.4 L123.6,136.4 Z" fill="#5d5e60" stroke="#231f20" stroke-width="0.5" stroke-linejoin="round" />
<path d="M123.6,199.6 L131.4,199.6 L131.4,202.8 L123.6,202.8 Z" fill="#5d5e60" stroke="#231f20" stroke-width="0.5" stroke-linejoin="round" />
</g>
<g transform="translate(3.0,0)">
<path d="M129.5,134.5 L132.3,134.5 L132.3,153 L129.5,153 Z" fill="#c9cacc" stroke="#231f20" stroke-width="0.6" stroke-linejoin="round" />
<path d="M129.5,182 L132.3,182 L132.3,201.5 L129.5,201.5 Z" fill="#c9cacc" stroke="#231f20" stroke-width="0.6" stroke-linejoin="round" />
<path d="M129.3,152 L139.5,153.5 L145.2,158 L145.2,177.5 L139.5,182 L129.3,183.5 Z" fill="#5d5e60" stroke="#231f20" stroke-width="0.9" stroke-linejoin="round" />
<path d="M129.3,147.9 L135,147.9 L137,152.9 L129.3,152.9 Z" fill="#c9cacc" stroke="#231f20" stroke-width="0.5" stroke-linejoin="round" />
<path d="M129.3,183.5 L137,183.5 L135,188.4 L129.3,188.4 Z" fill="#c9cacc" stroke="#231f20" stroke-width="0.5" stroke-linejoin="round" />
</g>
<path d="M133.6,161.4 L229.2,161.4 L229.2,173.9 L133.6,173.9 Z" fill="url(#rodg)" stroke="#231f20" stroke-width="0.7" stroke-linejoin="round" />
<path d="M109.7,168.2 C113.2,163 123.7,161.5 131.1,155.5 L131.1,181 C123.7,175 113.2,173.5 109.7,168.2 Z" fill="url(#bulg)" stroke="#231f20" stroke-width="0.8" stroke-linejoin="round" />
<path d="M131.1,151.8 L133.6,151.8 L133.6,184.7 L131.1,184.7 Z" fill="#f07050" stroke="#231f20" stroke-width="0.4" stroke-linejoin="round" />
<path d="M225.8,148.4 L212.8,141.2 L212.8,144.8 L196.8,144.8 L196.8,152.0 L212.8,152.0 L212.8,155.6 Z" fill="#fff200" stroke="#231f20" stroke-width="0.9" stroke-linejoin="round" /><line x1="203.3" y1="145.2" x2="203.3" y2="151.6" stroke="#8a7a00" stroke-width="0.8"/><line x1="201.1" y1="145.2" x2="201.1" y2="151.6" stroke="#8a7a00" stroke-width="0.8"/><line x1="198.9" y1="145.2" x2="198.9" y2="151.6" stroke="#8a7a00" stroke-width="0.8"/>
<path d="M225.8,185.8 L212.8,178.6 L212.8,182.2 L196.8,182.2 L196.8,189.4 L212.8,189.4 L212.8,193.0 Z" fill="#fff200" stroke="#231f20" stroke-width="0.9" stroke-linejoin="round" /><line x1="203.3" y1="182.6" x2="203.3" y2="189.0" stroke="#8a7a00" stroke-width="0.8"/><line x1="201.1" y1="182.6" x2="201.1" y2="189.0" stroke="#8a7a00" stroke-width="0.8"/><line x1="198.9" y1="182.6" x2="198.9" y2="189.0" stroke="#8a7a00" stroke-width="0.8"/>
<path d="M164.4,167.9 L157.4,162.6 L157.4,165.2 L142.4,165.2 L142.4,170.6 L157.4,170.6 L157.4,173.2 Z" fill="#0a6ab4" stroke="#231f20" stroke-width="0.7" stroke-linejoin="round" />
<circle cx="142.2" cy="213.7" r="5.6" fill="#fff"/><text x="142.2" y="217.29999999999998" font-size="10.5" text-anchor="middle" fill="#231f20">C</text>
<circle cx="202.6" cy="199" r="5.6" fill="#fff"/><text x="202.6" y="202.6" font-size="10.5" text-anchor="middle" fill="#231f20">B</text>
<circle cx="245" cy="204.4" r="5.6" fill="#fff"/><text x="245" y="208.0" font-size="10.5" text-anchor="middle" fill="#231f20">A</text></g>
<path d="M710.5,136.5 L696,164.6 L710.5,193.6" fill="none" stroke="#231f20" stroke-width="0.8"/><path d="M689,137.2 L741.5,144.3 C744.5,143 744.5,133 751.6,129.6 L771.6,129.6 C782,131 790.2,140 790.2,150 L790.2,249" fill="none" stroke="#fff" stroke-width="3.4" stroke-linejoin="round"/><path d="M689,137.2 L741.5,144.3 C744.5,143 744.5,133 751.6,129.6 L771.6,129.6 C782,131 790.2,140 790.2,150 L790.2,249" fill="none" stroke="#29abe2" stroke-width="1.7" stroke-linejoin="round"/><path d="M696,150.5 L757.3,155.1 C760,154 759,147 762,146.2 L777.3,145.8 C782.5,146 786.6,149 786.6,155 L786.6,249" fill="none" stroke="#fff" stroke-width="3.4" stroke-linejoin="round"/><path d="M696,150.5 L757.3,155.1 C760,154 759,147 762,146.2 L777.3,145.8 C782.5,146 786.6,149 786.6,155 L786.6,249" fill="none" stroke="#29abe2" stroke-width="1.7" stroke-linejoin="round"/><path d="M695,180.1 L757.3,178 C760,179 759,185 763,185.6 L777.3,185.8 C780.5,186 782.3,188 782.3,192 L782.3,249" fill="none" stroke="#fff" stroke-width="3.4" stroke-linejoin="round"/><path d="M695,180.1 L757.3,178 C760,179 759,185 763,185.6 L777.3,185.8 C780.5,186 782.3,188 782.3,192 L782.3,249" fill="none" stroke="#29abe2" stroke-width="1.7" stroke-linejoin="round"/><path d="M689.5,193.7 L744.4,192.3 C752,193 760,198 762.5,206 C765.5,213 765.9,218 765.9,225 L765.9,249" fill="none" stroke="#fff" stroke-width="3.4" stroke-linejoin="round"/><path d="M689.5,193.7 L744.4,192.3 C752,193 760,198 762.5,206 C765.5,213 765.9,218 765.9,225 L765.9,249" fill="none" stroke="#29abe2" stroke-width="1.7" stroke-linejoin="round"/><path d="M686.8,137.2 L693.8,134.6 L692.3,137.2 L693.8,139.79999999999998 Z" fill="#29abe2"/><path d="M693.6,150.5 L700.6,147.9 L699.1,150.5 L700.6,153.1 Z" fill="#29abe2"/><path d="M692.8,180.1 L699.8,177.5 L698.3,180.1 L699.8,182.7 Z" fill="#29abe2"/><path d="M687.3,193.7 L694.3,191.1 L692.8,193.7 L694.3,196.29999999999998 Z" fill="#29abe2"/>
<rect x="13.5" y="11.5" width="957" height="419" fill="none" stroke="#000" stroke-width="3"/>
<text x="187.2" y="62" font-size="16" fill="#000" font-weight="bold" textLength="116.7" lengthAdjust="spacing" text-anchor="middle">Accelerator ON</text>
<text x="187.5" y="89.2" font-size="16" fill="#000" font-weight="bold" textLength="107.4" lengthAdjust="spacing" text-anchor="middle">Valves Closed</text>
<text x="491.2" y="61.8" font-size="16" fill="#000" font-weight="bold" textLength="124.6" lengthAdjust="spacing" text-anchor="middle">Accelerator OFF</text>
<text x="491.2" y="89.1" font-size="16" fill="#000" font-weight="bold" textLength="158.5" lengthAdjust="spacing" text-anchor="middle">Primary Valve Opens</text>
<text x="795.1" y="61.9" font-size="16" fill="#000" font-weight="bold" textLength="124.6" lengthAdjust="spacing" text-anchor="middle">Accelerator OFF</text>
<text x="795.5" y="89.4" font-size="16" fill="#000" font-weight="bold" textLength="180" lengthAdjust="spacing" text-anchor="middle">Secondary Valve Opens</text>
<text x="45.1" y="281" font-size="14" fill="#000" textLength="275.2" lengthAdjust="spacing">As pressure rises in chamber C, pressure is</text>
<text x="45.1" y="305" font-size="14" fill="#000" textLength="269.4" lengthAdjust="spacing">applied to both the Primary and Secondary</text>
<text x="45.1" y="329" font-size="14" fill="#000" textLength="267.6" lengthAdjust="spacing">valves. The higher the boost pressure, the</text>
<text x="45.1" y="353" font-size="14" fill="#000" textLength="243.0" lengthAdjust="spacing">more pressure is applied to the valves,</text>
<text x="45.1" y="377" font-size="14" fill="#000" textLength="106.7" lengthAdjust="spacing">preventing leaks.</text>
<text x="348.5" y="281" font-size="14" fill="#000" textLength="256.1" lengthAdjust="spacing">Throttle lift creates a pressure difference</text>
<text x="348.5" y="305" font-size="14" fill="#000" textLength="240.4" lengthAdjust="spacing">between chambers A &amp; B, opening the</text>
<text x="348.5" y="329" font-size="14" fill="#000" textLength="244.9" lengthAdjust="spacing">primary valve bypassing the secondary</text>
<text x="348.5" y="353" font-size="14" fill="#000" textLength="242.6" lengthAdjust="spacing">valve. this creates the <tspan fill="#cc0000">initial discharge</tspan>.</text>
<text x="652.0" y="276.8" font-size="14" fill="#000" textLength="283.5" lengthAdjust="spacing">When pressure difference in chambers A &amp; B</text>
<text x="652.0" y="300.0" font-size="14" fill="#000" textLength="284.8" lengthAdjust="spacing">reach a maximum, the Primary Valve pulls the</text>
<text x="652.0" y="323.6" font-size="14" fill="#000" textLength="282.2" lengthAdjust="spacing">Secondary Valve open, creating a <tspan fill="#cc0000">secondary</tspan></text>
<text x="652.0" y="347.4" font-size="14" fill="#000" textLength="65.3" lengthAdjust="spacing"><tspan fill="#cc0000">discharge.</tspan></text>
<text x="12.0" y="482.8" font-size="17.6" fill="#cc0000" font-weight="bold" textLength="786.5" lengthAdjust="spacing">Pull-Type blow off valves will work for any turbocharged vehicle, from stock to highly tuned.</text>
<text x="12.7" y="518.8" font-size="14" fill="#000" textLength="381.8" lengthAdjust="spacing">Typical push-type blow off valves require spring load settings</text>
<text x="12.7" y="542.7" font-size="14" fill="#000" textLength="377.9" lengthAdjust="spacing">for each vehicle specification. If the spring load setting is too</text>
<text x="12.7" y="566.6" font-size="14" fill="#000" textLength="395.9" lengthAdjust="spacing">low, the valve may leak under high boost and the desired boost</text>
<text x="12.7" y="590.5" font-size="14" fill="#000" textLength="352.1" lengthAdjust="spacing">setting may not be reach. If the spring load setting is too</text>
<text x="12.7" y="614.4" font-size="14" fill="#000" textLength="353.2" lengthAdjust="spacing">strong, it may not open at low boost. The Super SQV will</text>
<text x="12.7" y="638.3" font-size="14" fill="#000" textLength="361.8" lengthAdjust="spacing">operate under any boost pressure setting without leaking.</text>
<path d="M588,528.30 L966,528.30 Q970.5,528.80 968.5,531.30 L946.6,553.70 L588,553.70 Z" fill="#231815"/>
<path d="M618.9,523.30 L963.6,523.30 Q967,523.60 965.2,525.80 L943,547.80 L596.3,547.80 Z" fill="#231815"/>
<polygon points="619.80,525.10 962.60,525.10 942.30,546.50 598.80,546.50" fill="#fff" />
<polygon points="620.50,526.30 799.00,526.30 779.70,545.10 601.20,545.10" fill="#00479d" />
<polygon points="789.00,526.30 812.00,526.30 792.70,545.10 769.70,545.10" fill="url(#fade1)" />
<rect x="449.45" y="503.45" width="142.5" height="50.5" rx="6" ry="6" fill="#fff" stroke="#231815" stroke-width="2.5"/>
<path d="M588,593.50 L966,593.50 Q970.5,594.00 968.5,596.50 L946.6,618.90 L588,618.90 Z" fill="#231815"/>
<path d="M618.9,588.50 L963.6,588.50 Q967,588.80 965.2,591.00 L943,613.00 L596.3,613.00 Z" fill="#231815"/>
<polygon points="619.80,590.30 962.60,590.30 942.30,611.70 598.80,611.70" fill="#fff" />
<polygon points="792.00,591.50 961.80,591.50 942.50,610.30 772.70,610.30" fill="#00479d" />
<polygon points="786.00,591.50 795.00,591.50 775.70,610.30 766.70,610.30" fill="url(#fade2)" />
<polygon points="930.00,591.50 961.80,591.50 942.50,610.30 910.70,610.30" fill="url(#fade2r)" />
<rect x="449.45" y="568.65" width="142.5" height="50.5" rx="6" ry="6" fill="#fff" stroke="#231815" stroke-width="2.5"/>
<path d="M588,658.70 L966,658.70 Q970.5,659.20 968.5,661.70 L946.6,684.10 L588,684.10 Z" fill="#231815"/>
<path d="M618.9,653.70 L963.6,653.70 Q967,654.00 965.2,656.20 L943,678.20 L596.3,678.20 Z" fill="#231815"/>
<polygon points="619.80,655.50 962.60,655.50 942.30,676.90 598.80,676.90" fill="#fff" />
<polygon points="620.50,656.70 961.80,656.70 942.50,675.50 601.20,675.50" fill="#00479d" />
<rect x="449.45" y="633.85" width="142.5" height="50.5" rx="6" ry="6" fill="#fff" stroke="#231815" stroke-width="2.5"/>
<text x="463.0" y="522.6" font-size="14.6" fill="#231815" textLength="114.2" lengthAdjust="spacingAndGlyphs">Conpetitions’ BOV</text>
<text x="456.2" y="540.1" font-size="14.6" fill="#231815" textLength="128" lengthAdjust="spacingAndGlyphs">(Low Pressure type)</text>
<text x="460.8" y="587.6" font-size="14.6" fill="#231815" textLength="119.4" lengthAdjust="spacingAndGlyphs">Competitions’ BOV</text>
<text x="454.1" y="605.1" font-size="14.6" fill="#231815" textLength="132" lengthAdjust="spacingAndGlyphs">(High pressure type)</text>
<text x="459.8" y="662.8" font-size="14" fill="#e60012" font-weight="bold" textLength="121.8" lengthAdjust="spacingAndGlyphs">HKS SUPER SQV</text>
<text x="647.2" y="541.2" font-size="15" fill="#fff" textLength="86" lengthAdjust="spacingAndGlyphs">Operational</text>
<text x="796.0" y="541.2" font-size="15" fill="#231815" textLength="150" lengthAdjust="spacingAndGlyphs">Boost Pressure Leak</text>
<text x="629.8" y="606.4" font-size="15" fill="#231815" textLength="121.5" lengthAdjust="spacingAndGlyphs">Non-Operational</text>
<text x="826.2" y="606.4" font-size="15" fill="#fff" textLength="85" lengthAdjust="spacingAndGlyphs">Operational</text>
<text x="637.3" y="671.7" font-size="15" fill="#fff" textLength="289" lengthAdjust="spacingAndGlyphs">Operational Throughout Pressure Range</text>
<polygon points="598.50,709.00 642.60,695.30 640.50,700.30 924.50,700.30 922.70,695.20 966.40,708.90 922.70,722.50 924.50,717.50 640.50,717.50 642.60,722.70" fill="#d7161c" />
<text x="624.0" y="742.7" font-size="14.3" fill="#231815" textLength="70.8" lengthAdjust="spacingAndGlyphs">Low Foced</text>
<text x="597.3" y="756.4" font-size="14.3" fill="#231815" textLength="124.5" lengthAdjust="spacingAndGlyphs">Induction Pressure</text>
<text x="863.0" y="742.7" font-size="14.3" fill="#231815" textLength="73.8" lengthAdjust="spacingAndGlyphs">High Foced</text>
<text x="837.3" y="756.4" font-size="14.3" fill="#231815" textLength="124.5" lengthAdjust="spacingAndGlyphs">Induction Pressure</text>
</svg></body></html>
